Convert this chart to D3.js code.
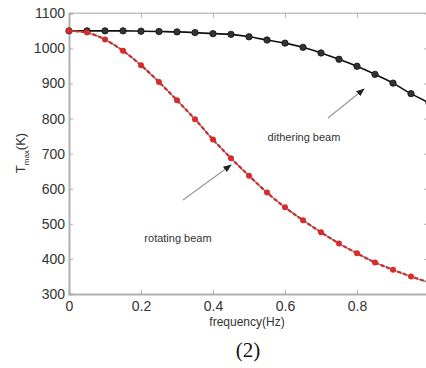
<!DOCTYPE html>
<html><head><meta charset="utf-8">
<script src="https://cdn.jsdelivr.net/npm/d3@7"></script>
<style>html,body{margin:0;padding:0;background:#fff;}svg{display:block;}</style>
</head><body>
<svg id="c" width="426" height="368"></svg>
<script>
const freq = [0,0.05,0.1,0.15,0.2,0.25,0.3,0.35,0.4,0.45,0.5,0.55,0.6,0.65,0.7,0.75,0.8,0.85,0.9,0.95,1.0];
const dithering = [1050,1050,1050,1050,1049,1048,1047,1045,1042,1040,1033,1024,1015,1003,987,969,949,926,901,871,845];
const rotating = [1050,1045,1025,993,952,904,852,798,740,687,637,589,547,510,476,444,416,390,369,350,333];
const xTicks = [0,0.2,0.4,0.6,0.8];
const yTicks = [300,400,500,600,700,800,900,1000,1100];

const svg = d3.select("#c");
const x = d3.scaleLinear().domain([0,1]).range([69,429]);
const y = d3.scaleLinear().domain([300,1100]).range([294,13.3]);
const fontS = "Liberation Sans, Arial, sans-serif";

// frame
svg.append("line").attr("x1",x(0)).attr("x2",x(1)).attr("y1",y(1100)).attr("y2",y(1100))
  .attr("stroke","#c4c4c4").attr("stroke-width",1.5);
svg.append("line").attr("x1",x(1)).attr("x2",x(1)).attr("y1",y(300)).attr("y2",y(1100))
  .attr("stroke","#b0b0b0").attr("stroke-width",2);

// axes
const gx = svg.append("g").attr("transform",`translate(0,${y(300)})`)
  .call(d3.axisBottom(x).tickValues(xTicks).tickFormat(d=>d3.format("")(d)).tickSize(-4).tickPadding(10));
const gy = svg.append("g").attr("transform",`translate(${x(0)},0)`)
  .call(d3.axisLeft(y).tickValues(yTicks).tickFormat(d3.format("d")).tickSize(-4).tickPadding(4));
[gx,gy].forEach(g=>{
  g.select(".domain").attr("stroke","#b0b0b0").attr("stroke-width",2);
  g.selectAll(".tick line").attr("stroke","#b0b0b0").attr("stroke-width",1);
  g.selectAll(".tick text").attr("fill","#333").attr("font-family",fontS).attr("font-size",14);
});
gx.selectAll(".tick text").attr("dy","0.5em");
// top ticks and right ticks
const gt = svg.append("g").attr("transform",`translate(0,${y(1100)})`)
  .call(d3.axisTop(x).tickValues(xTicks).tickSize(-4).tickFormat(""));
gt.select(".domain").remove();
gt.selectAll(".tick line").attr("stroke","#b0b0b0");
const gr = svg.append("g").attr("transform",`translate(${x(1)},0)`)
  .call(d3.axisRight(y).tickValues(yTicks).tickSize(-5).tickFormat(""));
gr.select(".domain").remove();
gr.selectAll(".tick line").attr("stroke","#b0b0b0");

// series
const pts = vals => freq.map((f,i)=>[f,vals[i]]);
const line = d3.line().x(d=>x(d[0])).y(d=>y(d[1])).curve(d3.curveMonotoneX);

svg.append("path").datum(pts(dithering)).attr("d",line).attr("fill","none")
  .attr("stroke","#111").attr("stroke-width",1.6);
svg.append("g").selectAll("circle").data(pts(dithering)).join("circle")
  .attr("cx",d=>x(d[0])).attr("cy",d=>y(d[1])).attr("r",3.2).attr("fill","#333").attr("stroke","#111").attr("stroke-width",0.8);

svg.append("path").datum(pts(rotating)).attr("d",line).attr("fill","none")
  .attr("stroke","#777").attr("stroke-width",1.2);
svg.append("path").datum(pts(rotating)).attr("d",line).attr("fill","none")
  .attr("stroke","#d42a2a").attr("stroke-width",2.2).attr("stroke-dasharray","4,2");
svg.append("g").selectAll("circle").data(pts(rotating)).join("circle")
  .attr("cx",d=>x(d[0])).attr("cy",d=>y(d[1])).attr("r",3).attr("fill","#d92b2b");

// annotations
const defs = svg.append("defs");
defs.append("marker").attr("id","ah").attr("viewBox","0 0 10 10").attr("refX",9).attr("refY",5)
  .attr("markerWidth",7).attr("markerHeight",7).attr("orient","auto")
  .append("path").attr("d","M0,1 L10,5 L0,9 Z").attr("fill","#222");
svg.append("line").attr("x1",328).attr("y1",118).attr("x2",364).attr("y2",89)
  .attr("stroke","#999").attr("stroke-width",1.2).attr("marker-end","url(#ah)");
svg.append("line").attr("x1",183).attr("y1",200).attr("x2",231).attr("y2",165)
  .attr("stroke","#999").attr("stroke-width",1.2).attr("marker-end","url(#ah)");
svg.append("text").attr("x",304).attr("y",141).attr("text-anchor","middle")
  .attr("font-family",fontS).attr("font-size",11).attr("fill","#333").text("dithering beam");
svg.append("text").attr("x",178).attr("y",242).attr("text-anchor","middle")
  .attr("font-family",fontS).attr("font-size",11).attr("fill","#333").text("rotating beam");

// axis labels
svg.append("text").attr("x",247).attr("y",326).attr("text-anchor","middle")
  .attr("font-family",fontS).attr("font-size",12).attr("fill","#333").text("frequency(Hz)");
const yl = svg.append("text").attr("transform","translate(25,153) rotate(-90)").attr("text-anchor","middle")
  .attr("font-family",fontS).attr("font-size",13).attr("fill","#333");
yl.append("tspan").text("T");
yl.append("tspan").attr("font-size",8).attr("dy",4).text("max");
yl.append("tspan").attr("dy",-4).text("(K)");
svg.append("text").attr("x",248).attr("y",357).attr("text-anchor","middle")
  .attr("font-family","Liberation Serif, Times New Roman, serif").attr("font-size",21).attr("fill","#111").text("(2)");
</script>
</body></html>
